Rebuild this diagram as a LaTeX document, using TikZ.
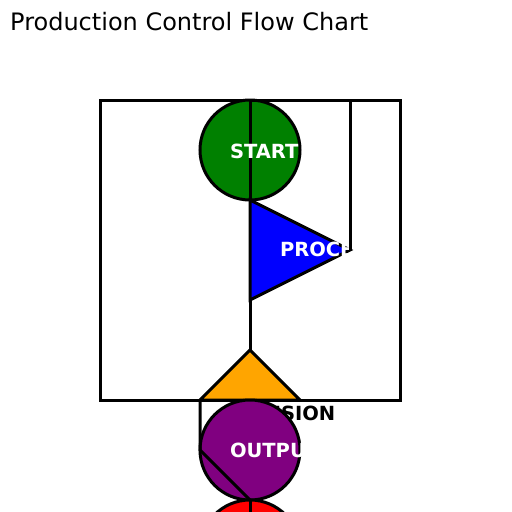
\documentclass[tikz,border=0pt]{standalone}
\usepackage{fontspec}
\setmainfont{DejaVu Sans}
\definecolor{cgreen}{HTML}{008000}
\definecolor{cblue}{HTML}{0000FF}
\definecolor{corange}{HTML}{FFA500}
\definecolor{cpurple}{HTML}{800080}
\definecolor{cred}{HTML}{FF0000}
\begin{document}
\begin{tikzpicture}[x=1pt,y=-1pt,
  shapeline/.style={draw=black, line width=3pt, line join=miter},
  conn/.style={draw=black, line width=3pt},
  lbl/.style={anchor=base west, inner sep=0pt, outer sep=0pt, font=\fontsize{19.5}{19.5}\selectfont\bfseries},
  circ/.style={circle, draw=black, line width=3pt, minimum size=100pt, inner sep=0pt, outer sep=0pt},
  frame/.style={rectangle, draw=black, line width=3pt, minimum width=300pt, minimum height=300pt, inner sep=0pt, outer sep=0pt}]
\useasboundingbox (0,0) rectangle (512,512);
\clip (0,0) rectangle (512,512);
\node[anchor=base west, inner sep=0pt, font=\fontsize{24}{24}\selectfont] (title) at (10,30) {Production Control Flow Chart};
\node[frame] (box) at (250,250) {};
% START
\node[circ, fill=cgreen] (start) at (250,150) {};
\coordinate (p1) at (250,200);
\coordinate (p2) at (250,300);
\coordinate (p3) at (350,250);
\draw[conn] (start.north) -- (p1);
\node[lbl, text=white] (startlbl) at (230,158) {START};
% PROCESS
\filldraw[shapeline, fill=cblue] (p1) -- (p3) -- (p2) -- cycle;
\node[lbl, text=white] (proclbl) at (280,256) {PROCESS};
\draw[conn] (p3) |- (start.north);
% DECISION
\coordinate (d1) at (250,350);
\coordinate (d2) at (200,400);
\coordinate (d3) at (300,400);
\draw[conn] (p2) -- (d1);
\filldraw[shapeline, fill=corange] (d1) -- (d3) -- (d2) -- cycle;
\node[lbl, text=black] (declbl) at (230,420) {DECISION};
% OUTPUT
\node[circ, fill=cpurple] (output) at (250,450) {};
\node[lbl, text=white] (outlbl) at (230,457) {OUTPUT};
\draw[conn] (d2) -- (output.west) -- (output.south);
% END
\node[circ, fill=cred] (end) at (250,550) {};
\draw[conn] (output.south) -- (end.south);
\end{tikzpicture}
\end{document}
